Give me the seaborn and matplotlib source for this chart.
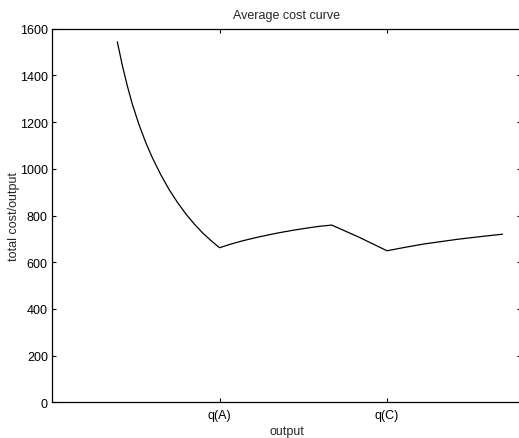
import matplotlib
matplotlib.use("Agg")
import matplotlib.pyplot as plt
import seaborn as sns
import pandas as pd

# Data
output_q = [39, 42, 45, 48, 52, 56, 60, 65, 70, 75, 80, 85, 90, 95, 100,
            107, 114, 124, 134, 144, 154, 160, 167,
            183, 200,
            211, 222, 232, 242, 255, 269]
avg_cost = [1544, 1442, 1354, 1276, 1188, 1112, 1046, 974, 910, 855, 806, 763, 725, 692, 662,
            678, 692, 709, 724, 737, 748, 754, 759,
            708, 649,
            664, 678, 688, 698, 709, 720]
xtick_pos = [100, 200]
xtick_labels = ["q(A)", "q(C)"]
yticks = [0, 200, 400, 600, 800, 1000, 1200, 1400, 1600]

df = pd.DataFrame({"output": output_q, "ac": avg_cost})

sns.set_style("ticks")
plt.rcParams["font.family"] = ["Liberation Sans", "DejaVu Sans"]

W, H = 519, 439
fig = plt.figure(figsize=(W / 100, H / 100), dpi=100)
ax = fig.add_axes([52 / W, 35.7 / H, 469 / W, 373.6 / H])

sns.lineplot(data=df, x="output", y="ac", sort=False, color="black",
             linewidth=0.9, ax=ax, estimator=None)

ax.set_xlim(0, 280)
ax.set_ylim(0, 1600)
ax.set_xticks(xtick_pos)
ax.set_xticklabels(xtick_labels)
ax.set_yticks(yticks)
ax.tick_params(direction="in", length=3, width=0.8, top=True, right=True,
               labelsize=9, colors="black")
ax.tick_params(axis="x", pad=5)
ax.tick_params(axis="y", pad=3)
for s in ax.spines.values():
    s.set_linewidth(0.9)
    s.set_color("black")
ax.set_xlabel("output", fontsize=9, labelpad=3)
ax.set_ylabel("total cost/output", fontsize=9, labelpad=0)
ax.set_title("Average cost curve", fontsize=9, pad=8)

fig.savefig("out.png", dpi=100)
